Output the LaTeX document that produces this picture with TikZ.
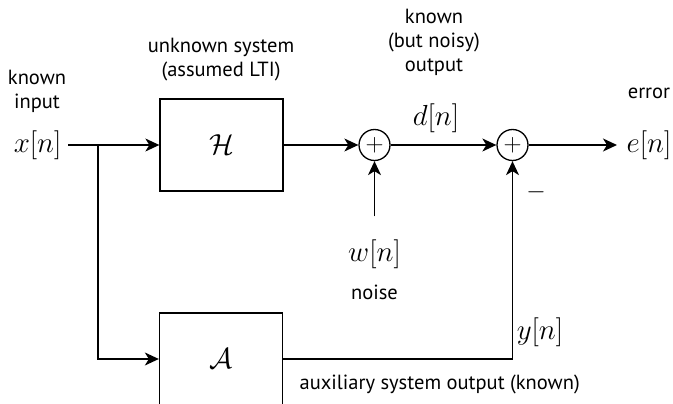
\documentclass[tikz,border=0pt]{standalone}
\usepackage{fix-cm}
\usepackage{amsmath}
\usepackage{fontspec}
\setmainfont{PT Sans}
\usepackage{tikz}
\usetikzlibrary{arrows.meta, positioning}

\newcommand{\sigfont}{\fontsize{29}{32}\selectfont}
\newcommand{\lblfont}{\fontsize{20.5}{24}\selectfont}
\newcommand{\opfont}{\fontsize{25}{25}\selectfont}

\begin{document}
\begin{tikzpicture}[
  x=1pt, y=-1pt,
  line width=1.3pt,
  sysbox/.style={rectangle, draw, minimum width=123pt, minimum height=92pt,
                 inner sep=0pt, font=\sigfont},
  sumnode/.style={circle, draw, minimum size=31pt, inner sep=0pt, font=\opfont},
  sig/.style={inner sep=3pt, font=\sigfont},
  lbl/.style={align=center, inner sep=0pt, font=\lblfont},
  arrow/.style={-{Stealth[length=14pt, width=13pt, inset=4pt]}}
]
\useasboundingbox (0,0) rectangle (673,404);

% blocks
\node[sysbox] (H) at (221.5,145) {$\mathcal{H}$};
\node[sysbox] (A) at (221,359) {$\mathcal{A}$};
\node[sumnode] (s1) at (374.5,145) {$+$};
\node[sumnode] (s2) at (512.5,145) {$+$};

% signals
\node[sig, anchor=east, inner xsep=6pt] (xn) at (68,145) {$x[n]$};
\node[sig, anchor=west, inner xsep=9pt] (en) at (617,145) {$e[n]$};
\node[sig] (wn) at (374.5,254.5) {$w[n]$};
\node[sig] (dn) at (436,118) {$d[n]$};
\node[sig] (yn) at (540,332) {$y[n]$};
\node[font=\opfont, inner sep=0pt] (minus) at (536,192) {$-$};
\coordinate (br) at (98,145);

% texts
\node[lbl] (inlbl) at (37,91) {known\\input};
\node[lbl] (hlbl) at (221,60) {unknown system\\(assumed LTI)};
\node[lbl] (dlbl) at (434,42) {known\\(but noisy)\\output};
\node[lbl] (elbl) at (649,93) {error};
\node[lbl] (wlbl) at (374.5,292) {noise};
\node[lbl, anchor=west] (albl) at (299,384) {auxiliary system output (known)};

% connectors
\draw[arrow] (xn.east) -- (H.west);
\draw[arrow] (br) |- (A.west);
\draw[arrow] (H.east) -- (s1.west);
\draw[arrow] (s1.east) -- (s2.west);
\draw[arrow] (s2.east) -- (en.west);
\draw[arrow, shorten <=20pt] (wn.north) -- (s1.south);
\draw[arrow] (A.east) -| (s2.south);

\end{tikzpicture}
\end{document}
